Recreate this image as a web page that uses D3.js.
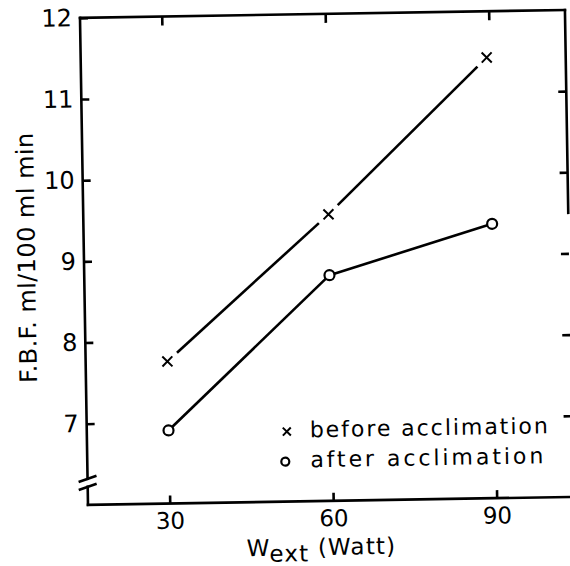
<!DOCTYPE html>
<html>
<head>
<meta charset="utf-8">
<script src="https://cdn.jsdelivr.net/npm/d3@7"></script>
<style>
  html, body { margin: 0; padding: 0; background: #fff; }
  svg { display: block; }
</style>
</head>
<body>
<script>
// ---- data ----
const yTicks = [7, 8, 9, 10, 11, 12];
const xTicks = [30, 60, 90];
const beforeWatt = [30, 60, 89.5];
const beforeFBF = [7.75, 9.53, 11.43];
const afterWatt = [30, 60, 90];
const afterFBF = [6.90, 8.78, 9.38];
const legendLabels = ["before acclimation", "after acclimation"];
const yTitle = "F.B.F. ml/100 ml min";

// ---- layout ----
const W = 570, H = 566;
const xDomain = [15, 104], yDomain = [6, 12];
const x = d3.scaleLinear().domain(xDomain).range([84, 569]);
const y = d3.scaleLinear().domain(yDomain).range([501, 14]);
const font = "DejaVu Sans, sans-serif";
const sw = 2.6;

const svg = d3.select("body").append("svg").attr("width", W).attr("height", H);
const g = svg.append("g").attr("transform", "rotate(-0.94, 320, 260)");

// frame
const frame = g.append("g").attr("stroke", "#000").attr("stroke-width", sw).attr("fill", "none").attr("stroke-linecap", "square");
const x0 = x(xDomain[0]), x1 = x(xDomain[1]), y0 = y(yDomain[0]), y1 = y(yDomain[1]);
const brTop = 475, brBot = 483;
frame.append("line").attr("x1", x0).attr("x2", x1).attr("y1", y1).attr("y2", y1);
frame.append("line").attr("x1", x0).attr("x2", x1).attr("y1", y0).attr("y2", y0);
frame.append("line").attr("x1", x0).attr("x2", x0).attr("y1", y1).attr("y2", brTop);
frame.append("line").attr("x1", x0).attr("x2", x0).attr("y1", brBot).attr("y2", y0);
frame.append("line").attr("x1", x1).attr("x2", x1).attr("y1", y1).attr("y2", y(9.5));
[brTop, brBot].forEach(b => {
  frame.append("line").attr("x1", x0 - 9).attr("y1", b + 3).attr("x2", x0 + 9).attr("y2", b - 3)
    .attr("stroke-linecap", "butt");
});

// axes (inward ticks)
function styleAxis(sel, fs) {
  sel.select(".domain").remove();
  sel.selectAll(".tick line").attr("stroke", "#000").attr("stroke-width", sw);
  sel.selectAll("text").attr("font-family", font).attr("font-size", fs || 24).attr("fill", "#000");
}
g.append("g").attr("transform", `translate(${x0},0)`)
  .call(d3.axisLeft(y).tickValues(yTicks).tickSize(-8).tickPadding(8).tickFormat(d3.format("d")))
  .call(styleAxis, 24);
g.append("g").attr("transform", `translate(${x1},0)`)
  .call(d3.axisRight(y).tickValues(yTicks.filter(v => v < 12)).tickSize(-8).tickFormat(""))
  .call(styleAxis);
g.append("g").attr("transform", `translate(0,${y0})`)
  .call(d3.axisBottom(x).tickValues(xTicks).tickSize(-8).tickPadding(9).tickFormat(d3.format("d")))
  .call(styleAxis, 23);
g.append("g").attr("transform", `translate(0,${y1})`)
  .call(d3.axisTop(x).tickValues(xTicks).tickSize(-9).tickFormat(""))
  .call(styleAxis);

// series
function drawSeries(xs, ys, marker, gap) {
  const pts = xs.map((v, i) => [x(v), y(ys[i])]);
  const sg = g.append("g");
  for (let i = 0; i < pts.length - 1; i++) {
    const [ax, ay] = pts[i], [bx, by] = pts[i + 1];
    const len = Math.hypot(bx - ax, by - ay);
    const ux = (bx - ax) / len, uy = (by - ay) / len;
    sg.append("line")
      .attr("x1", ax + ux * gap).attr("y1", ay + uy * gap)
      .attr("x2", bx - ux * gap).attr("y2", by - uy * gap)
      .attr("stroke", "#000").attr("stroke-width", sw);
  }
  pts.forEach(p => marker(sg, p[0], p[1], 5));
}
function cross(sel, cx, cy, s) {
  sel.append("path")
    .attr("d", `M${cx - s},${cy - s}L${cx + s},${cy + s}M${cx - s},${cy + s}L${cx + s},${cy - s}`)
    .attr("stroke", "#000").attr("stroke-width", 2).attr("fill", "none");
}
function ring(sel, cx, cy, s) {
  sel.append("circle").attr("cx", cx).attr("cy", cy).attr("r", s)
    .attr("stroke", "#000").attr("stroke-width", 2.2).attr("fill", "#fff");
}
drawSeries(beforeWatt, beforeFBF, cross, 13);
drawSeries(afterWatt, afterFBF, ring, 5);

// legend
const leg = g.append("g");
cross(leg, 284, 431, 4);
ring(leg, 282, 461, 4);
leg.append("text").attr("x", 307).attr("y", 437).text(legendLabels[0])
  .attr("font-family", font).attr("font-size", 22).attr("textLength", 238).attr("lengthAdjust", "spacing");
leg.append("text").attr("x", 307).attr("y", 467).text(legendLabels[1])
  .attr("font-family", font).attr("font-size", 22).attr("textLength", 233).attr("lengthAdjust", "spacing");

// axis titles
g.append("text").attr("transform", "translate(35,253) rotate(-90)")
  .attr("text-anchor", "middle").attr("font-family", font).attr("font-size", 24)
  .attr("textLength", 250).attr("lengthAdjust", "spacing")
  .text(yTitle);
const xt = g.append("text").attr("x", 242).attr("y", 555)
  .attr("font-family", font).attr("font-size", 23).attr("letter-spacing", 1.2);
xt.append("tspan").text("W");
xt.append("tspan").attr("dy", 6).text("ext");
xt.append("tspan").attr("dy", -6).text(" (Watt)");
</script>
</body>
</html>
